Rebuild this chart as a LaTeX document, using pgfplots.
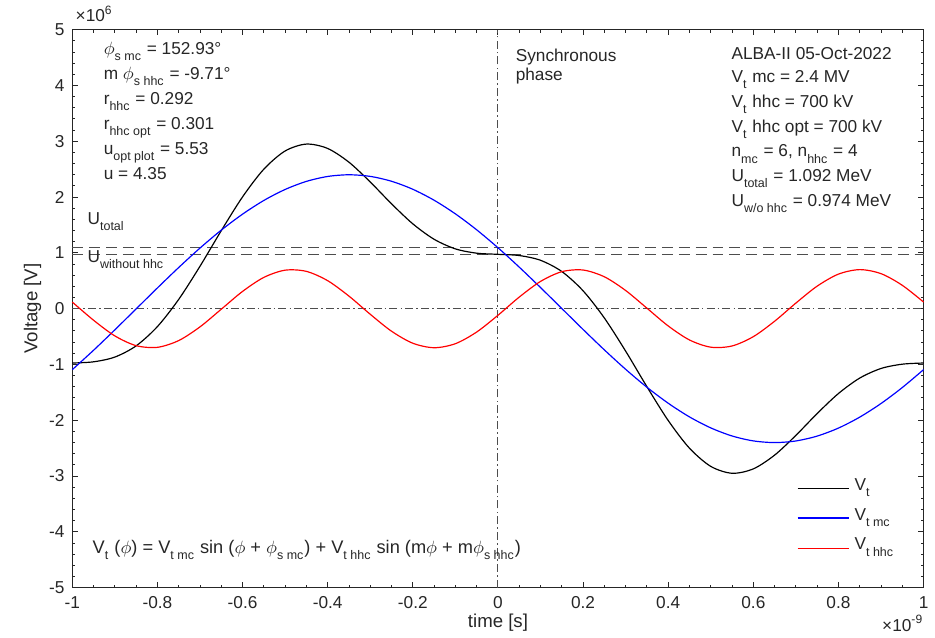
\documentclass[border=0pt]{standalone}
\usepackage{pgfplots}
\pgfplotsset{compat=1.18}
\usepackage{pgfplotstable}
\usepackage{fontspec}
\setmainfont{Liberation Sans}

\definecolor{axgray}{HTML}{262626}
\definecolor{refgray}{HTML}{4D4D4D}

% t in ns, voltages in MV
\pgfplotstableread{
t     vt       vmc      vhhc
-1.00 -0.9741 -1.0922  0.1181
-0.95 -0.9523 -0.7443 -0.2080
-0.90 -0.8670 -0.3783 -0.4887
-0.85 -0.6659 -0.0029 -0.6630
-0.80 -0.3201  0.3726 -0.6927
-0.75  0.1676  0.7389 -0.5713
-0.70  0.7614  1.0869 -0.3255
-0.65  1.3997  1.4084 -0.0087
-0.60  2.0048  1.6948  0.3100
-0.55  2.5012  1.9401  0.5611
-0.50  2.8270  2.1370  0.6900
-0.45  2.9501  2.2817  0.6684
-0.40  2.8711  2.3700  0.5011
-0.35  2.6246  2.4000  0.2246
-0.30  2.2700  2.3709 -0.1009
-0.25  1.8790  2.2834 -0.4044
-0.20  1.5201  2.1398 -0.6197
-0.15  1.2436  1.9435 -0.6999
-0.10  1.0716  1.6992 -0.6276
-0.05  0.9947  1.4131 -0.4184
 0.00  0.9741  1.0922 -0.1181
 0.05  0.9523  0.7443  0.2080
 0.10  0.8670  0.3783  0.4887
 0.15  0.6659  0.0029  0.6630
 0.20  0.3201 -0.3726  0.6927
 0.25 -0.1676 -0.7389  0.5713
 0.30 -0.7614 -1.0869  0.3255
 0.35 -1.3997 -1.4084  0.0087
 0.40 -2.0048 -1.6948 -0.3100
 0.45 -2.5012 -1.9401 -0.5611
 0.50 -2.8270 -2.1370 -0.6900
 0.55 -2.9501 -2.2817 -0.6684
 0.60 -2.8711 -2.3700 -0.5011
 0.65 -2.6246 -2.4000 -0.2246
 0.70 -2.2700 -2.3709  0.1009
 0.75 -1.8790 -2.2834  0.4044
 0.80 -1.5201 -2.1398  0.6197
 0.85 -1.2436 -1.9435  0.6999
 0.90 -1.0716 -1.6992  0.6276
 0.95 -0.9947 -1.4131  0.4184
 1.00 -0.9741 -1.0922  0.1181
}\wavedata

\newcommand{\txt}{\fontsize{8.7}{10}\selectfont}
% MATLAB-like subscript: fairly large and set low (a tall strut pushes it down)
\newcommand{\sub}[1]{\ensuremath{_{\mbox{\fontsize{6.3}{7}\selectfont\rule{0pt}{6.3pt}#1}}}}

\begin{document}
\begin{tikzpicture}
\begin{axis}[
    name=ax,
    scale only axis,
    width=429.5pt, height=281.5pt,
    xmin=-1, xmax=1, ymin=-5, ymax=5,
    xtick={-1,-0.8,-0.6,-0.4,-0.2,0,0.2,0.4,0.6,0.8,1},
    xticklabels={-1,-0.8,-0.6,-0.4,-0.2,0,0.2,0.4,0.6,0.8,1},
    ytick={-5,-4,-3,-2,-1,0,1,2,3,4,5},
    yticklabels={-5,-4,-3,-2,-1,0,1,2,3,4,5},
    minor x tick num=3, minor y tick num=4,
    tick align=inside,
    major tick length=2.75pt, minor tick length=1.5pt,
    axis line style={draw=axgray, line width=0.5pt},
    every tick/.style={axgray, line width=0.5pt},
    tick label style={font=\txt, text=axgray},
    xticklabel style={yshift=-1pt},
    yticklabel style={xshift=-0.5pt},
    label style={font=\fontsize{9.4}{11}\selectfont, text=axgray},
    xlabel={time [s]}, ylabel={Voltage [V]},
    xlabel style={at={(axis description cs:0.5,-0.0622)}, anchor=center},
    ylabel style={at={(axis description cs:-0.0466,0.5)}, anchor=center},
    clip=false,
]
% reference lines
\addplot[refgray, line width=0.6pt, dash pattern=on 5.5pt off 3pt] coordinates {(-1,1.092) (1,1.092)};
\addplot[refgray, line width=0.6pt, dash pattern=on 5.5pt off 3pt] coordinates {(-1,0.974) (1,0.974)};
\addplot[refgray, line width=0.5pt, dash pattern=on 4pt off 1.6pt on 0.8pt off 1.6pt] coordinates {(-1,0) (1,0)};
\addplot[refgray, line width=0.5pt, dash pattern=on 4pt off 1.6pt on 0.8pt off 1.6pt] coordinates {(0,-5) (0,5)};

% voltages
\addplot[black, line width=0.6pt, smooth] table[x=t, y=vt] {\wavedata};
\addplot[blue, line width=0.6pt, smooth] table[x=t, y=vmc] {\wavedata};
\addplot[red, line width=0.6pt, smooth] table[x=t, y=vhhc] {\wavedata};

% legend keys (the built-in legend lost its colours here)
\addplot[black, line width=0.6pt] coordinates {(0.704,-3.218) (0.825,-3.218)};
\addplot[blue, line width=0.6pt] coordinates {(0.704,-3.751) (0.825,-3.751)};
\addplot[red, line width=0.6pt] coordinates {(0.704,-4.295) (0.825,-4.295)};

% annotations
\begin{scope}[every node/.style={font=\txt, text=axgray, inner sep=0pt, anchor=base west}]
\node at (axis cs:0.837,-3.259) {V\sub{t}};
\node at (axis cs:0.837,-3.792) {V\sub{t mc}};
\node at (axis cs:0.837,-4.325) {V\sub{t hhc}};

\node at (axis cs:-0.927,4.556) {$\phi$\sub{s mc} = 152.93°};
\node at (axis cs:-0.927,4.112) {m $\phi$\sub{s hhc} = -9.71°};
\node at (axis cs:-0.927,3.668) {r\sub{hhc} = 0.292};
\node at (axis cs:-0.927,3.213) {r\sub{hhc opt} = 0.301};
\node at (axis cs:-0.927,2.766) {u\sub{opt plot} = 5.53};
\node at (axis cs:-0.927,2.318) {u = 4.35};

\node at (axis cs:0.041,4.437) {Synchronous};
\node at (axis cs:0.041,4.082) {phase};

\node at (axis cs:0.548,4.467) {ALBA-II 05-Oct-2022};
\node at (axis cs:0.548,4.053) {V\sub{t} mc = 2.4 MV};
\node at (axis cs:0.548,3.609) {V\sub{t} hhc = 700 kV};
\node at (axis cs:0.548,3.165) {V\sub{t} hhc opt = 700 kV};
\node at (axis cs:0.548,2.721) {n\sub{mc} = 6, n\sub{hhc} = 4};
\node at (axis cs:0.548,2.277) {U\sub{total} = 1.092 MeV};
\node at (axis cs:0.548,1.833) {U\sub{w/o hhc} = 0.974 MeV};

\node at (axis cs:-0.965,1.506) {U\sub{total}};
\node at (axis cs:-0.965,0.826) {U\sub{without hhc}};

\node[font=\fontsize{9.2}{10}\selectfont] at (axis cs:-0.953,-4.384) {V\sub{t} ($\phi$) = V\sub{t mc} sin ($\phi$ + $\phi$\sub{s mc}) + V\sub{t hhc} sin (m$\phi$ + m$\phi$\sub{s hhc})};

\node at (axis description cs:0.0035,1.0142) {×10\textsuperscript{6}};
\node[anchor=base east] at (axis description cs:1,-0.0782) {×10\textsuperscript{-9}};
\end{scope}
\end{axis}
\path (ax.south west) +(-36.5pt,-23.5pt);
\path (ax.north east) +(1.5pt,15pt);
\end{tikzpicture}
\end{document}
